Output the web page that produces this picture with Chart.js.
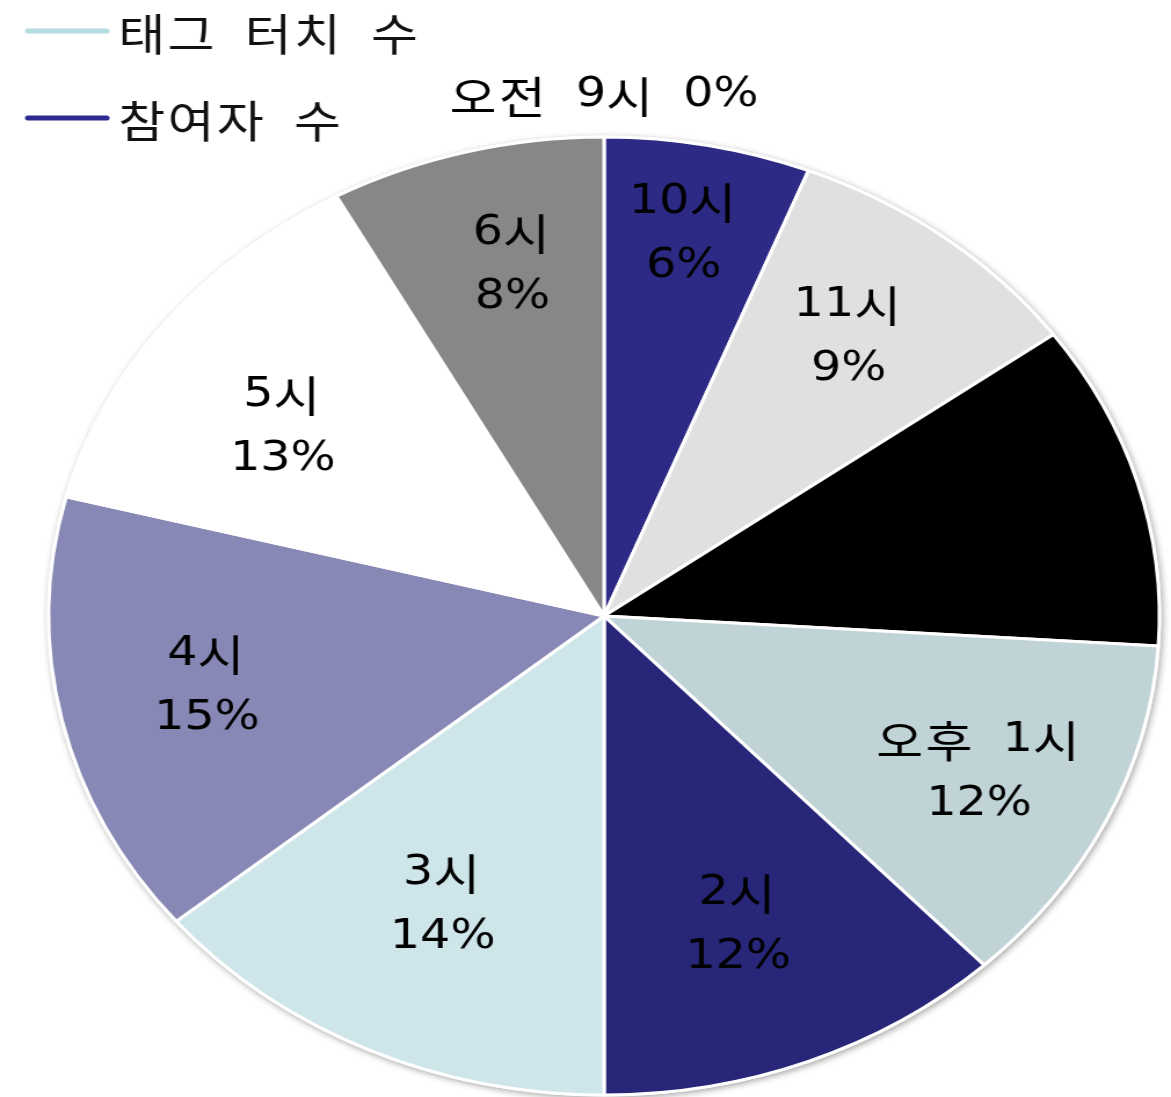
<!DOCTYPE html>
<html lang="ko">
<head>
<meta charset="utf-8">
<script src="https://cdn.jsdelivr.net/npm/chart.js@4.4.1/dist/chart.umd.min.js"></script>
<style>
  html, body { margin: 0; padding: 0; background: #fff; overflow: hidden; }
  /* the chart is laid out narrow and widened horizontally, giving the oval pie */
  #wrap { position: absolute; left: 0; top: 0; width: 1010px; height: 1097px;
          transform: scaleX(1.1594); transform-origin: 0 0; }
</style>
</head>
<body>
<div id="wrap"><canvas id="c" width="1010" height="1097"></canvas></div>
<script>
// Share of visitors per hour (percent)
const hours = ['오전 9시', '10시', '11시', '12시', '오후 1시', '2시', '3시', '4시', '5시', '6시'];
const shares = [0, 6, 9, 11, 12, 12, 14, 15, 13, 8];
const sliceColors = ['#FFFFFF', '#2D2A85', '#E0E0E0', '#000000', '#C0D3D6',
                     '#272678', '#CEE5EA', '#8888B6', '#FFFFFF', '#878787'];

// Series legend shown in the top-left corner
const legendNames = ['태그 터치 수', '참여자 수'];
const legendColors = ['#B4DDE0', '#2D2A90'];

const LATIN_FONT = '41px "DejaVu Sans", sans-serif';
const HANGUL_FONT = '44px "Noto Sans CJK KR", sans-serif';
const HANGUL_GAP = 2;
const WORD_GAP = 24;

// Label placement: distance out (fraction of the radius) and angle nudge (degrees)
const labelRadius = [1.086, 0.81, 0.73, 0.72, 0.75, 0.69, 0.67, 0.73, 0.70, 0.75];
const labelNudge = [0, -0.6, -0.7, 0, 0.6, 1.1, 0.5, 1.0, -3.5, 1.7];

const isHangul = ch => /[\uAC00-\uD7A3\u3131-\u318E]/.test(ch);

// Splits text into words of glyph runs, each with its font and advance
function layoutText(ctx, text) {
  return text.split(' ').map(word => {
    const glyphs = [...word].map(ch => {
      const hangul = isHangul(ch);
      const font = hangul ? HANGUL_FONT : LATIN_FONT;
      ctx.font = font;
      const adv = ctx.measureText(ch).width + (hangul ? HANGUL_GAP : 0);
      return { ch, font, adv, dy: hangul ? 1 : 0 };
    });
    return { glyphs, width: glyphs.reduce((a, g) => a + g.adv, 0) };
  });
}

// Draws text with roomy word spacing; align is 'center' or 'left'
function drawWords(ctx, text, x, y, align) {
  const words = layoutText(ctx, text);
  const total = words.reduce((a, w) => a + w.width, 0) + WORD_GAP * (words.length - 1);
  let cx = align === 'center' ? x - total / 2 : x;
  ctx.textAlign = 'left';
  words.forEach(w => {
    w.glyphs.forEach(g => {
      ctx.font = g.font;
      ctx.fillText(g.ch, cx, y + g.dy);
      cx += g.adv;
    });
    cx += WORD_GAP;
  });
}

const pieShadow = {
  id: 'pieShadow',
  beforeDatasetsDraw(chart) {
    const arc = chart.getDatasetMeta(0).data[0];
    if (!arc) return;
    const { x, y, outerRadius } = arc.getProps(['x', 'y', 'outerRadius'], true);
    const ctx = chart.ctx;
    ctx.save();
    ctx.shadowColor = 'rgba(0,0,0,0.35)';
    ctx.shadowBlur = 6;
    ctx.shadowOffsetX = 1.5;
    ctx.shadowOffsetY = 2;
    ctx.beginPath();
    ctx.arc(x, y, outerRadius + 1.5, 0, Math.PI * 2);
    ctx.fillStyle = '#fff';
    ctx.fill();
    ctx.restore();
  }
};

const sliceLabels = {
  id: 'sliceLabels',
  afterDatasetsDraw(chart) {
    const ctx = chart.ctx;
    const ds = chart.data.datasets[0];
    const total = ds.data.reduce((a, b) => a + b, 0);
    ctx.save();
    ctx.fillStyle = '#000';
    ctx.textBaseline = 'middle';
    chart.getDatasetMeta(0).data.forEach((arc, i) => {
      const p = arc.getProps(['x', 'y', 'startAngle', 'endAngle', 'outerRadius'], true);
      const mid = (p.startAngle + p.endAngle) / 2 + labelNudge[i] * Math.PI / 180;
      const r = p.outerRadius * labelRadius[i];
      const lx = p.x + Math.cos(mid) * r;
      const ly = p.y + Math.sin(mid) * r;
      const pct = Math.round(ds.data[i] / total * 100) + '%';
      const name = chart.data.labels[i];
      if (ds.data[i] === 0) {
        drawWords(ctx, name + ' ' + pct, lx, ly, 'center');
      } else {
        drawWords(ctx, name, lx, ly - 32, 'center');
        drawWords(ctx, pct, lx, ly + 32, 'center');
      }
    });
    ctx.restore();
  }
};

const seriesLegend = {
  id: 'seriesLegend',
  afterDraw(chart) {
    const ctx = chart.ctx;
    const lineRows = [31, 118];
    ctx.save();
    ctx.textBaseline = 'middle';
    legendNames.forEach((name, i) => {
      const y = lineRows[i];
      ctx.strokeStyle = legendColors[i];
      ctx.lineWidth = 5;
      ctx.lineCap = 'round';
      ctx.beginPath();
      ctx.moveTo(24, y);
      ctx.lineTo(92, y);
      ctx.stroke();
      ctx.fillStyle = '#111';
      drawWords(ctx, name, 102, y + 2, 'left');
    });
    ctx.restore();
  }
};

new Chart(document.getElementById('c'), {
  type: 'pie',
  data: {
    labels: hours,
    datasets: [{
      data: shares,
      backgroundColor: sliceColors,
      borderColor: '#FFFFFF',
      borderWidth: 3
    }]
  },
  options: {
    responsive: false,
    animation: false,
    devicePixelRatio: 1,
    radius: 479,
    layout: { padding: { left: 32, right: 0, top: 135, bottom: 0 } },
    plugins: {
      legend: { display: false },
      tooltip: { enabled: false }
    }
  },
  plugins: [pieShadow, sliceLabels, seriesLegend]
});
</script>
</body>
</html>
